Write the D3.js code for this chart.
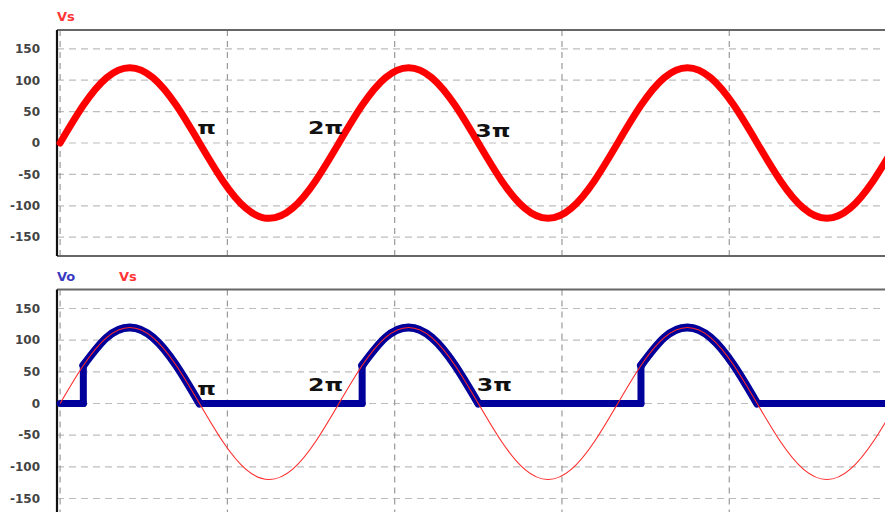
<!DOCTYPE html>
<html><head><meta charset="utf-8">
<script src="https://cdn.jsdelivr.net/npm/d3@7"></script>
<style>html,body{margin:0;padding:0;background:#fff;overflow:hidden}</style>
</head><body><svg id="c" width="885" height="512"></svg>
<script>
// ---- data (angle in electrical degrees, voltage in V) ----
const vsAngle = [0,30,60,90,120,150,180,210,240,270,300,330,360,390,420,450,480,510,540,570,600,630,660,690,720,750,780,810,840,870,900,930,960,990,1020,1050,1080];
const vsValue = [0,60,104,120,104,60,0,-60,-104,-120,-104,-60,0,60,104,120,104,60,0,-60,-104,-120,-104,-60,0,60,104,120,104,60,0,-60,-104,-120,-104,-60,0];
const voAngle = [0,30,30,60,90,120,150,180,390,390,420,450,480,510,540,750,750,780,810,840,870,900,1080];
const voValue = [0,0,60,104,120,104,60,0,0,60,104,120,104,60,0,0,60,104,120,104,60,0,0];
const yTicks = [150,100,50,0,-50,-100,-150];
const gridAngles = [0,216,432,648,864];
const piLabels = ["π","2π","3π"];
const piTopPos = [[177,25],[320,25],[536,20]];
const piBotPos = [[177,24],[320,29],[538,29]];

(function(){
const svg = d3.select("#c");
const x = d3.scaleLinear().domain([-4,1080]).range([57,57+1084*0.7745]);
const panels = [
  {y: d3.scaleLinear().domain([-180,180]).range([256,30]), top:30, bottom:256},
  {y: d3.scaleLinear().domain([-180,180]).range([517.5,289.5]), top:289.5, bottom:517.5}
];
const xL = 57, xR = 885;
const tickFont = "DejaVu Sans, Liberation Sans, sans-serif";

panels.forEach((p,i)=>{
  const g = svg.append("g");
  g.selectAll("line.h").data(yTicks).join("line")
    .attr("x1",xL).attr("x2",xR).attr("y1",d=>p.y(d)).attr("y2",d=>p.y(d))
    .attr("stroke","#bdbdbd").attr("stroke-width",1.2).attr("stroke-dasharray","7,5");
  g.selectAll("line.v").data(gridAngles).join("line")
    .attr("x1",d=>x(d)).attr("x2",d=>x(d)).attr("y1",p.top).attr("y2",p.bottom)
    .attr("stroke","#9a9a9a").attr("stroke-width",1.2).attr("stroke-dasharray","6,5");
  g.append("line").attr("x1",xL).attr("x2",xR).attr("y1",p.top).attr("y2",p.top)
    .attr("stroke","#666").attr("stroke-width",2);
  g.append("line").attr("x1",xL).attr("x2",xR).attr("y1",p.bottom).attr("y2",p.bottom)
    .attr("stroke","#666").attr("stroke-width",2);
  g.append("line").attr("x1",xL).attr("x2",xL).attr("y1",p.top).attr("y2",p.bottom)
    .attr("stroke","#111").attr("stroke-width",2.2);
  g.selectAll("text.t").data(yTicks).join("text")
    .attr("x",40).attr("y",d=>p.y(d)).attr("dy","0.36em").attr("text-anchor","end")
    .attr("font-family",tickFont).attr("font-size",12)
    .attr("font-weight","bold").attr("fill","#444").text(d=>d);
});

const font = "DejaVu Sans, Liberation Sans, sans-serif";
svg.append("text").attr("x",57).attr("y",21).attr("fill","#ff3535").attr("font-family",font)
  .attr("font-size",13).attr("font-weight","bold").text("Vs");
svg.append("text").attr("x",57).attr("y",281).attr("fill","#3a3ac0").attr("font-family",font)
  .attr("font-size",13).attr("font-weight","bold").text("Vo");
svg.append("text").attr("x",119).attr("y",281).attr("fill","#ff3535").attr("font-family",font)
  .attr("font-size",13).attr("font-weight","bold").text("Vs");

const vsPts = vsAngle.map((a,i)=>[a,vsValue[i]]);

const pTop = panels[0];
svg.append("path").datum(vsPts)
  .attr("d", d3.line().x(d=>x(d[0])).y(d=>pTop.y(d[1])).curve(d3.curveNatural))
  .attr("fill","none").attr("stroke","#ff0000").attr("stroke-width",7).attr("stroke-linecap","round");

const pBot = panels[1];
const voPts = voAngle.map((a,i)=>[a,voValue[i]]);
const straight = [], arcs = [];
let cur = null;
for (let i=0;i<voPts.length-1;i++){
  const a = voPts[i], b = voPts[i+1];
  const isStraight = (a[0]===b[0]) || (a[1]===0 && b[1]===0);
  if (isStraight){ straight.push([a,b]); cur=null; }
  else { if(!cur){cur=[a]; arcs.push(cur);} cur.push(b); }
}
const lineLin = d3.line().x(d=>x(d[0])).y(d=>pBot.y(d[1]));
const lineNat = d3.line().x(d=>x(d[0])).y(d=>pBot.y(d[1])).curve(d3.curveNatural);
const voG = svg.append("g");
straight.forEach(s=>voG.append("path").attr("d",lineLin(s)).attr("fill","none")
  .attr("stroke","#00009a").attr("stroke-width",7).attr("stroke-linecap","round"));
arcs.forEach(s=>voG.append("path").attr("d",lineNat(s)).attr("fill","none")
  .attr("stroke","#00009a").attr("stroke-width",8).attr("stroke-linecap","round"));

svg.append("path").datum(vsPts)
  .attr("d", lineNat)
  .attr("fill","none").attr("stroke","#ff2a2a").attr("stroke-width",1.1);

const piFont = "DejaVu Sans, Liberation Sans, sans-serif";
function piText(px, py, t){
  svg.append("text").attr("transform",`translate(${px},${py}) scale(1.28,0.95)`)
    .attr("dy","0.36em")
    .attr("font-family",piFont).attr("font-size",18.5).attr("font-weight","bold").attr("fill","#111").text(t);
}
piLabels.forEach((t,i)=>{
  piText(x(piTopPos[i][0]), pTop.y(piTopPos[i][1]), t);
  piText(x(piBotPos[i][0]), pBot.y(piBotPos[i][1]), t);
});
})();
</script></body></html>
